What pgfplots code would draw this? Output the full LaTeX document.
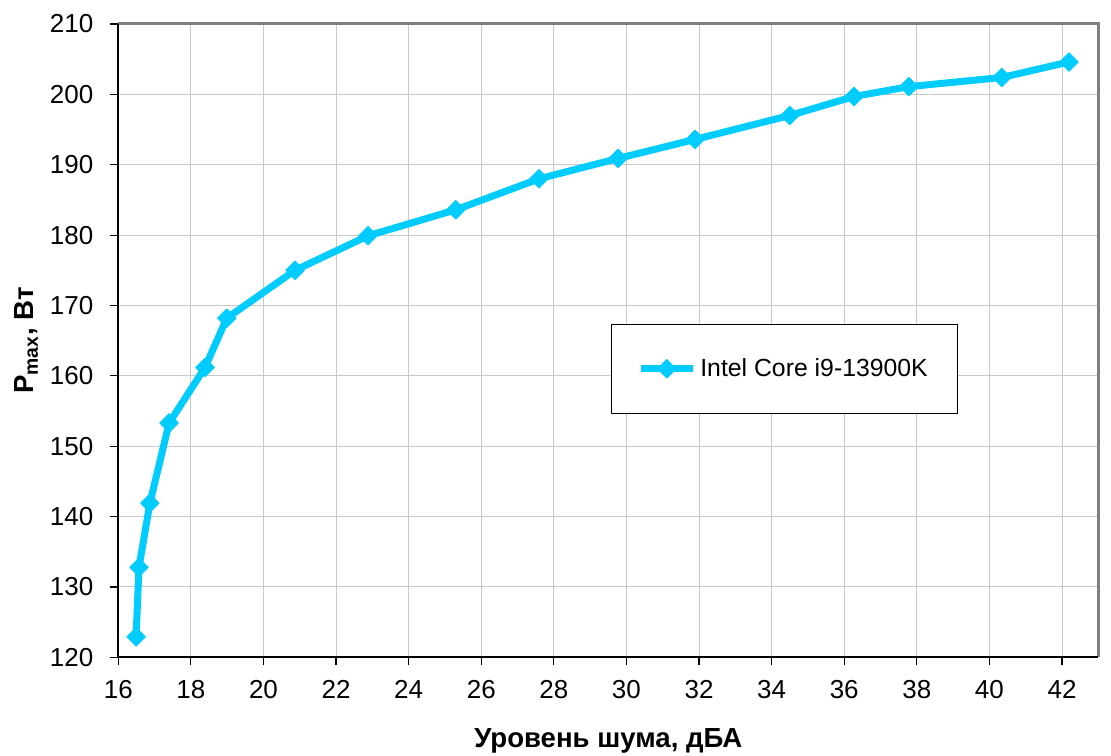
\documentclass[border=0pt]{standalone}
\usepackage{fontspec}
\setmainfont{Liberation Sans}
\usepackage{pgfplots}
\pgfplotsset{compat=1.18}
\definecolor{lineC}{HTML}{00CCFF}
\definecolor{gridC}{HTML}{C8C8C8}
\definecolor{frameC}{HTML}{808080}
\begin{document}
\begin{tikzpicture}
\useasboundingbox (-59.15pt,-48.85pt) rectangle (496.35pt,328.65pt);
\begin{axis}[
  at={(0,0)}, anchor=south west,
  scale only axis,
  width=490pt, height=316.65pt,
  xmin=16, xmax=43, ymin=120, ymax=210,
  xtick={16,18,...,42}, ytick={120,130,...,210},
  grid=major,
  major grid style={gridC, line width=0.5pt},
  axis line style={draw=none},
  tick pos=left, tick align=outside,
  major tick length=4pt,
  tick style={black, line width=0.6pt},
  /pgf/number format/assume math mode=true,
  ticklabel style={font=\fontsize{13}{15}\selectfont},
  yticklabel style={xshift=-5pt},
  xticklabel style={yshift=-4pt},
  xlabel={\textbf{Уровень шума, дБА}},
  ylabel={\textbf{P\textsubscript{max}, Вт}},
  label style={font=\fontsize{13.8}{16}\selectfont},
  xlabel style={yshift=-8pt},
  ylabel style={yshift=-1pt},
  legend style={at={(axis cs:29.57,167.4)}, anchor=north west,
    draw=black, line width=0.5pt, fill=white,
    font=\fontsize{12.4}{14}\selectfont,
    inner xsep=13pt, inner ysep=15pt},
  legend image code/.code={
    \draw[#1, mark repeat=2, mark phase=2] plot coordinates {(1.5pt,0pt) (14.5pt,0pt) (27.5pt,0pt)};
  },
]
\addplot[lineC, line width=3.5pt, line join=round, mark=square*,
  mark size=3.3pt, mark options={solid, rotate=45, line width=0.4pt, fill=lineC, draw=lineC}]
coordinates {
(16.49,122.9)
(16.57,132.8)
(16.87,141.9)
(17.40,153.3)
(18.39,161.2)
(18.99,168.2)
(20.87,175.0)
(22.88,179.9)
(25.30,183.6)
(27.59,188.0)
(29.77,190.9)
(31.89,193.6)
(34.50,197.0)
(36.27,199.7)
(37.78,201.1)
(40.34,202.4)
(42.19,204.6)
};
\addlegendentry{Intel Core i9-13900K}
\end{axis}
\draw[frameC, line width=1.5pt] (0,316.65pt) -- (490pt,316.65pt) -- (490pt,0);
\draw[black, line width=1pt] (0,316.65pt) -- (0,0) -- (490pt,0);
\end{tikzpicture}
\end{document}
